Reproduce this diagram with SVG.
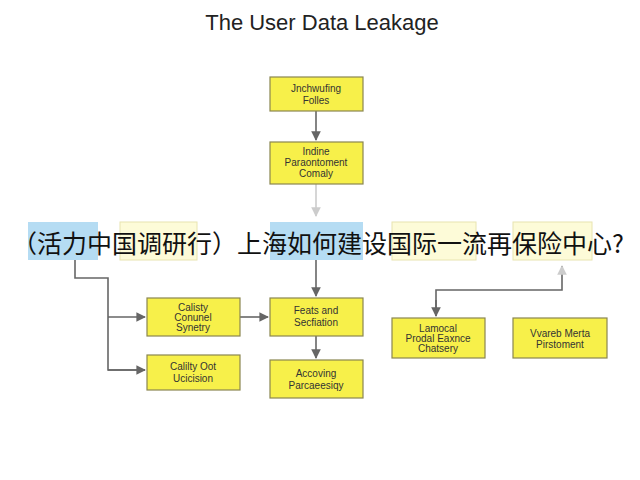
<svg xmlns="http://www.w3.org/2000/svg" width="640" height="480" viewBox="0 0 640 480">
<style>
.y{fill:#f7f04a;stroke:#8a8650;stroke-width:1.2}
.f{fill:#fdfbd8;stroke:#e8e4b0;stroke-width:1}
.b{fill:#b5dcf3;stroke:none}
.t{font-family:"Liberation Sans",sans-serif;font-size:10px;fill:#333;text-anchor:middle}
.c{stroke:#666;stroke-width:1.6;fill:none}
</style>
<defs><marker id="a" viewBox="0 0 10 10" refX="9" refY="5" markerWidth="6" markerHeight="6" orient="auto"><path d="M0,0L10,5L0,10z" fill="#666"/></marker>
<marker id="l" viewBox="0 0 10 10" refX="9" refY="5" markerWidth="6" markerHeight="6" orient="auto"><path d="M0,0L10,5L0,10z" fill="#ccc"/></marker></defs>
<rect width="640" height="480" fill="#fff"/>
<text x="322" y="30" font-family="Liberation Sans,sans-serif" font-size="22" fill="#222" text-anchor="middle">The User Data Leakage</text>
<g id="connectors">
<path class="c" d="M316,111V140" marker-end="url(#a)"/>
<path d="M316,184V216" stroke="#ccc" stroke-width="1.6" marker-end="url(#l)"/>
<path class="c" d="M75,260V278H108V370H145"/>
<path class="c" d="M108,317H145" marker-end="url(#a)"/>
<path class="c" d="M108,370H145" marker-end="url(#a)"/>
<path class="c" d="M240,317H268" marker-end="url(#a)"/>
<path class="c" d="M316,260V296" marker-end="url(#a)"/>
<path class="c" d="M316,336V358" marker-end="url(#a)"/>
<path class="c" d="M436,316V290H562V266" marker-end="url(#l)"/>
<path class="c" d="M436,300V316" marker-end="url(#a)"/>
</g>
<g id="n1"><rect class="y" x="270" y="77" width="93" height="34"/><text class="t" x="316" y="92">Jnchwufing</text><text class="t" x="316" y="104">Folles</text></g>
<g id="n2"><rect class="y" x="270" y="142" width="93" height="42"/><text class="t" x="316" y="155">Indine</text><text class="t" x="316" y="166">Paraontoment</text><text class="t" x="316" y="177">Comaly</text></g>
<g id="r1"><rect class="b" x="28" y="222" width="70" height="38"/></g>
<g id="r2"><rect class="f" x="120" y="222" width="77" height="38"/></g>
<g id="r3"><rect class="b" x="270" y="222" width="93" height="38"/></g>
<g id="r4"><rect class="f" x="392" y="222" width="84" height="38"/></g>
<g id="r5"><rect class="f" x="513" y="222" width="79" height="38"/></g>
<g id="n3"><rect class="y" x="147" y="298" width="93" height="38"/><text class="t" x="193" y="311">Calisty</text><text class="t" x="193" y="321">Conunel</text><text class="t" x="193" y="331">Synetry</text></g>
<g id="n4"><rect class="y" x="270" y="298" width="93" height="38"/><text class="t" x="316" y="314">Feats and</text><text class="t" x="316" y="326">Secfiation</text></g>
<g id="n5"><rect class="y" x="392" y="318" width="93" height="40"/><text class="t" x="438" y="332">Lamocal</text><text class="t" x="438" y="342">Prodal Eaxnce</text><text class="t" x="438" y="352">Chatsery</text></g>
<g id="n6"><rect class="y" x="513" y="318" width="94" height="40"/><text class="t" x="560" y="337">Vvareb Merta</text><text class="t" x="560" y="348">Pirstoment</text></g>
<g id="n7"><rect class="y" x="147" y="355" width="93" height="35"/><text class="t" x="193" y="370">Calilty Oot</text><text class="t" x="193" y="382">Ucicision</text></g>
<g id="n8"><rect class="y" x="270" y="360" width="93" height="38"/><text class="t" x="316" y="377">Accoving</text><text class="t" x="316" y="389">Parcaeesiqy</text></g>
<text x="318" y="253" font-family="Noto Sans CJK SC,sans-serif" font-size="25" fill="#111" text-anchor="middle">（活力中国调研行）上海如何建设国际一流再保险中心?</text>
</svg>
